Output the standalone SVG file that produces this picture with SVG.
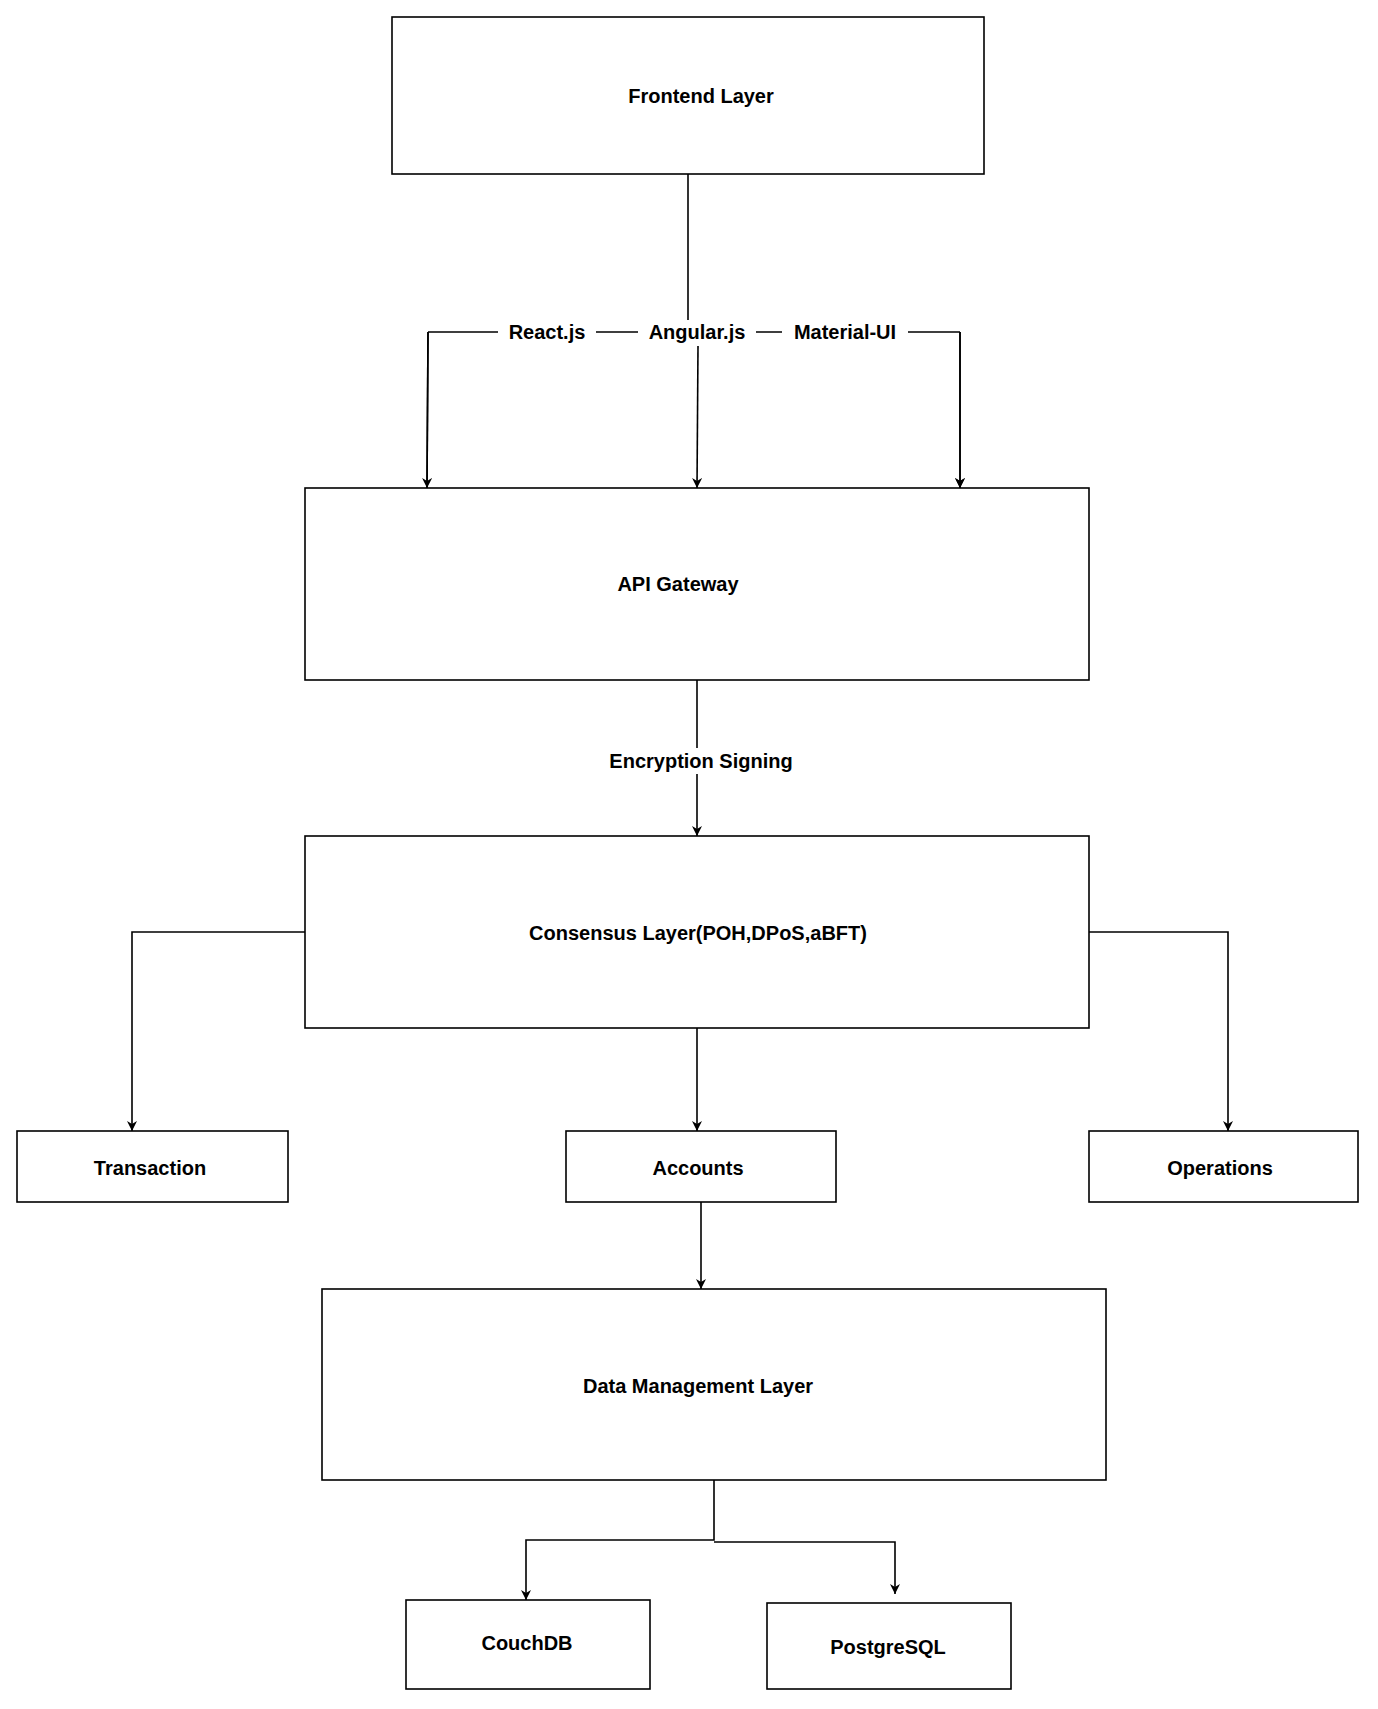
<svg xmlns="http://www.w3.org/2000/svg" width="1378" height="1709" viewBox="0 0 1378 1709">
<style>
rect{fill:#fff;stroke:#000;stroke-width:1.6}
text{font-family:"Liberation Sans",Arial,sans-serif;font-weight:bold;font-size:20px;text-anchor:middle;dominant-baseline:central}
.c path{fill:none;stroke:#000;stroke-width:1.6}
.lb{fill:#fff;stroke:none}
</style>
<defs><marker id="a" viewBox="0 0 10 10" refX="10" refY="5" markerWidth="10" markerHeight="10" markerUnits="userSpaceOnUse" orient="auto"><path d="M0,0 L10,5 L0,10 L3,5 Z" fill="#000"/></marker></defs>
<rect width="1378" height="1709" style="fill:#fff;stroke:none"/>
<g class="c">
<path d="M688,174 V332"/>
<path d="M428,332 H960 M428,332 L427,488 M960,332 V488" marker-end="url(#a)"/>
<path d="M428,332 L427,488" marker-end="url(#a)"/>
<path d="M960,332 V488" marker-end="url(#a)"/>
<path d="M698,346 L697,488" marker-end="url(#a)"/>
<path d="M697,680 V836" marker-end="url(#a)"/>
<path d="M305,932 H132 V1131" marker-end="url(#a)"/>
<path d="M1089,932 H1228 V1131" marker-end="url(#a)"/>
<path d="M697,1028 V1131" marker-end="url(#a)"/>
<path d="M701,1202 V1289" marker-end="url(#a)"/>
<path d="M714,1480 V1540 H526 V1600" marker-end="url(#a)"/>
<path d="M714,1542 H895 V1594" marker-end="url(#a)"/>
<rect class="lb" x="498" y="320" width="98" height="24"/>
<rect class="lb" x="638" y="320" width="118" height="24"/>
<rect class="lb" x="782" y="320" width="126" height="24"/>
<rect class="lb" x="585" y="748" width="232" height="26"/>
<text x="547" y="332">React.js</text>
<text x="697" y="332">Angular.js</text>
<text x="845" y="332">Material-UI</text>
<text x="701" y="761">Encryption Signing</text>
</g>
<g id="frontend"><rect x="392" y="17" width="592" height="157"/><text x="701" y="96">Frontend Layer</text></g>
<g id="api"><rect x="305" y="488" width="784" height="192"/><text x="678" y="584">API Gateway</text></g>
<g id="consensus"><rect x="305" y="836" width="784" height="192"/><text x="698" y="933">Consensus Layer(POH,DPoS,aBFT)</text></g>
<g id="transaction"><rect x="17" y="1131" width="271" height="71"/><text x="150" y="1168">Transaction</text></g>
<g id="accounts"><rect x="566" y="1131" width="270" height="71"/><text x="698" y="1168">Accounts</text></g>
<g id="operations"><rect x="1089" y="1131" width="269" height="71"/><text x="1220" y="1168">Operations</text></g>
<g id="data"><rect x="322" y="1289" width="784" height="191"/><text x="698" y="1386">Data Management Layer</text></g>
<g id="couchdb"><rect x="406" y="1600" width="244" height="89"/><text x="527" y="1643">CouchDB</text></g>
<g id="postgres"><rect x="767" y="1603" width="244" height="86"/><text x="888" y="1647">PostgreSQL</text></g>
</svg>
